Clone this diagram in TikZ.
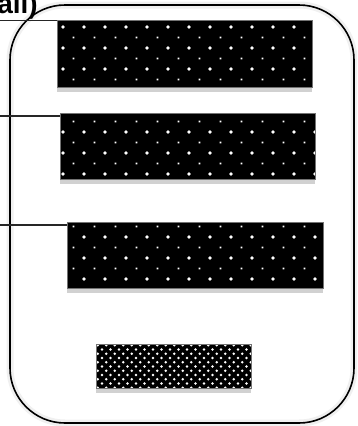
\documentclass[tikz,border=0pt]{standalone}
\usepackage{fontspec}
\setmainfont{Liberation Sans}
\usetikzlibrary{patterns, shadows}

% white dots on black, two densities
\pgfdeclarepatternformonly{sparse dots}{\pgfqpoint{-3pt}{-3pt}}{\pgfqpoint{24pt}{24pt}}{\pgfqpoint{21pt}{21pt}}{%
  \pgfpathcircle{\pgfqpoint{0pt}{0pt}}{1.8pt}%
  \pgfpathrectangle{\pgfqpoint{9.7pt}{9.7pt}}{\pgfqpoint{1.7pt}{1.7pt}}%
  \pgfusepath{fill}}
\pgfdeclarepatternformonly{dense dots}{\pgfqpoint{-2pt}{-2pt}}{\pgfqpoint{10pt}{10pt}}{\pgfqpoint{8.5pt}{8.5pt}}{%
  \pgfpathcircle{\pgfqpoint{0pt}{0pt}}{1.3pt}%
  \pgfpathcircle{\pgfqpoint{4.25pt}{4.25pt}}{1.3pt}%
  \pgfusepath{fill}}

\begin{document}
\begin{tikzpicture}[
  x=1pt, y=-1pt,
  frame/.style={draw, line width=1.6pt, rounded corners=55pt,
                preaction={draw=black!6, line width=7pt}},
  bar/.style={rectangle, draw=black!55, line width=0.6pt, anchor=north west,
              drop shadow={shadow xshift=0pt, shadow yshift=-4.5pt, fill=black!18, opacity=1},
              preaction={fill=black}, pattern=sparse dots, pattern color=white},
  smallbar/.style={bar, pattern=dense dots},
  title/.style={font=\bfseries\fontsize{28}{30}\selectfont, inner sep=0pt},
  link/.style={draw=black!85, line width=1.3pt},
]
  \path[use as bounding box, clip] (0,0) rectangle (357,426);

  \coordinate (frametl) at (10,5);
  \coordinate (framebr) at (354,423);
  \draw[frame] (frametl) rectangle (framebr);

  \node[bar, minimum width=255pt, minimum height=67pt] (bar1) at (57,20) {};
  \node[bar, minimum width=255pt, minimum height=66pt] (bar2) at (60,113) {};
  \node[bar, minimum width=256pt, minimum height=66pt] (bar3) at (67,222) {};
  \node[smallbar, minimum width=155pt, minimum height=44pt] (bar4) at (96,344) {};

  \node[title, anchor=base east] (title) at (38,13) {all)};

  \coordinate (in1) at (0,20.5);
  \coordinate (in2) at (0,116);
  \coordinate (in3) at (0,225);
  \draw[link] (in1) -- (bar1.west |- in1);
  \draw[link] (in2) -- (bar2.west |- in2);
  \draw[link] (in3) -- (bar3.west |- in3);
\end{tikzpicture}
\end{document}
